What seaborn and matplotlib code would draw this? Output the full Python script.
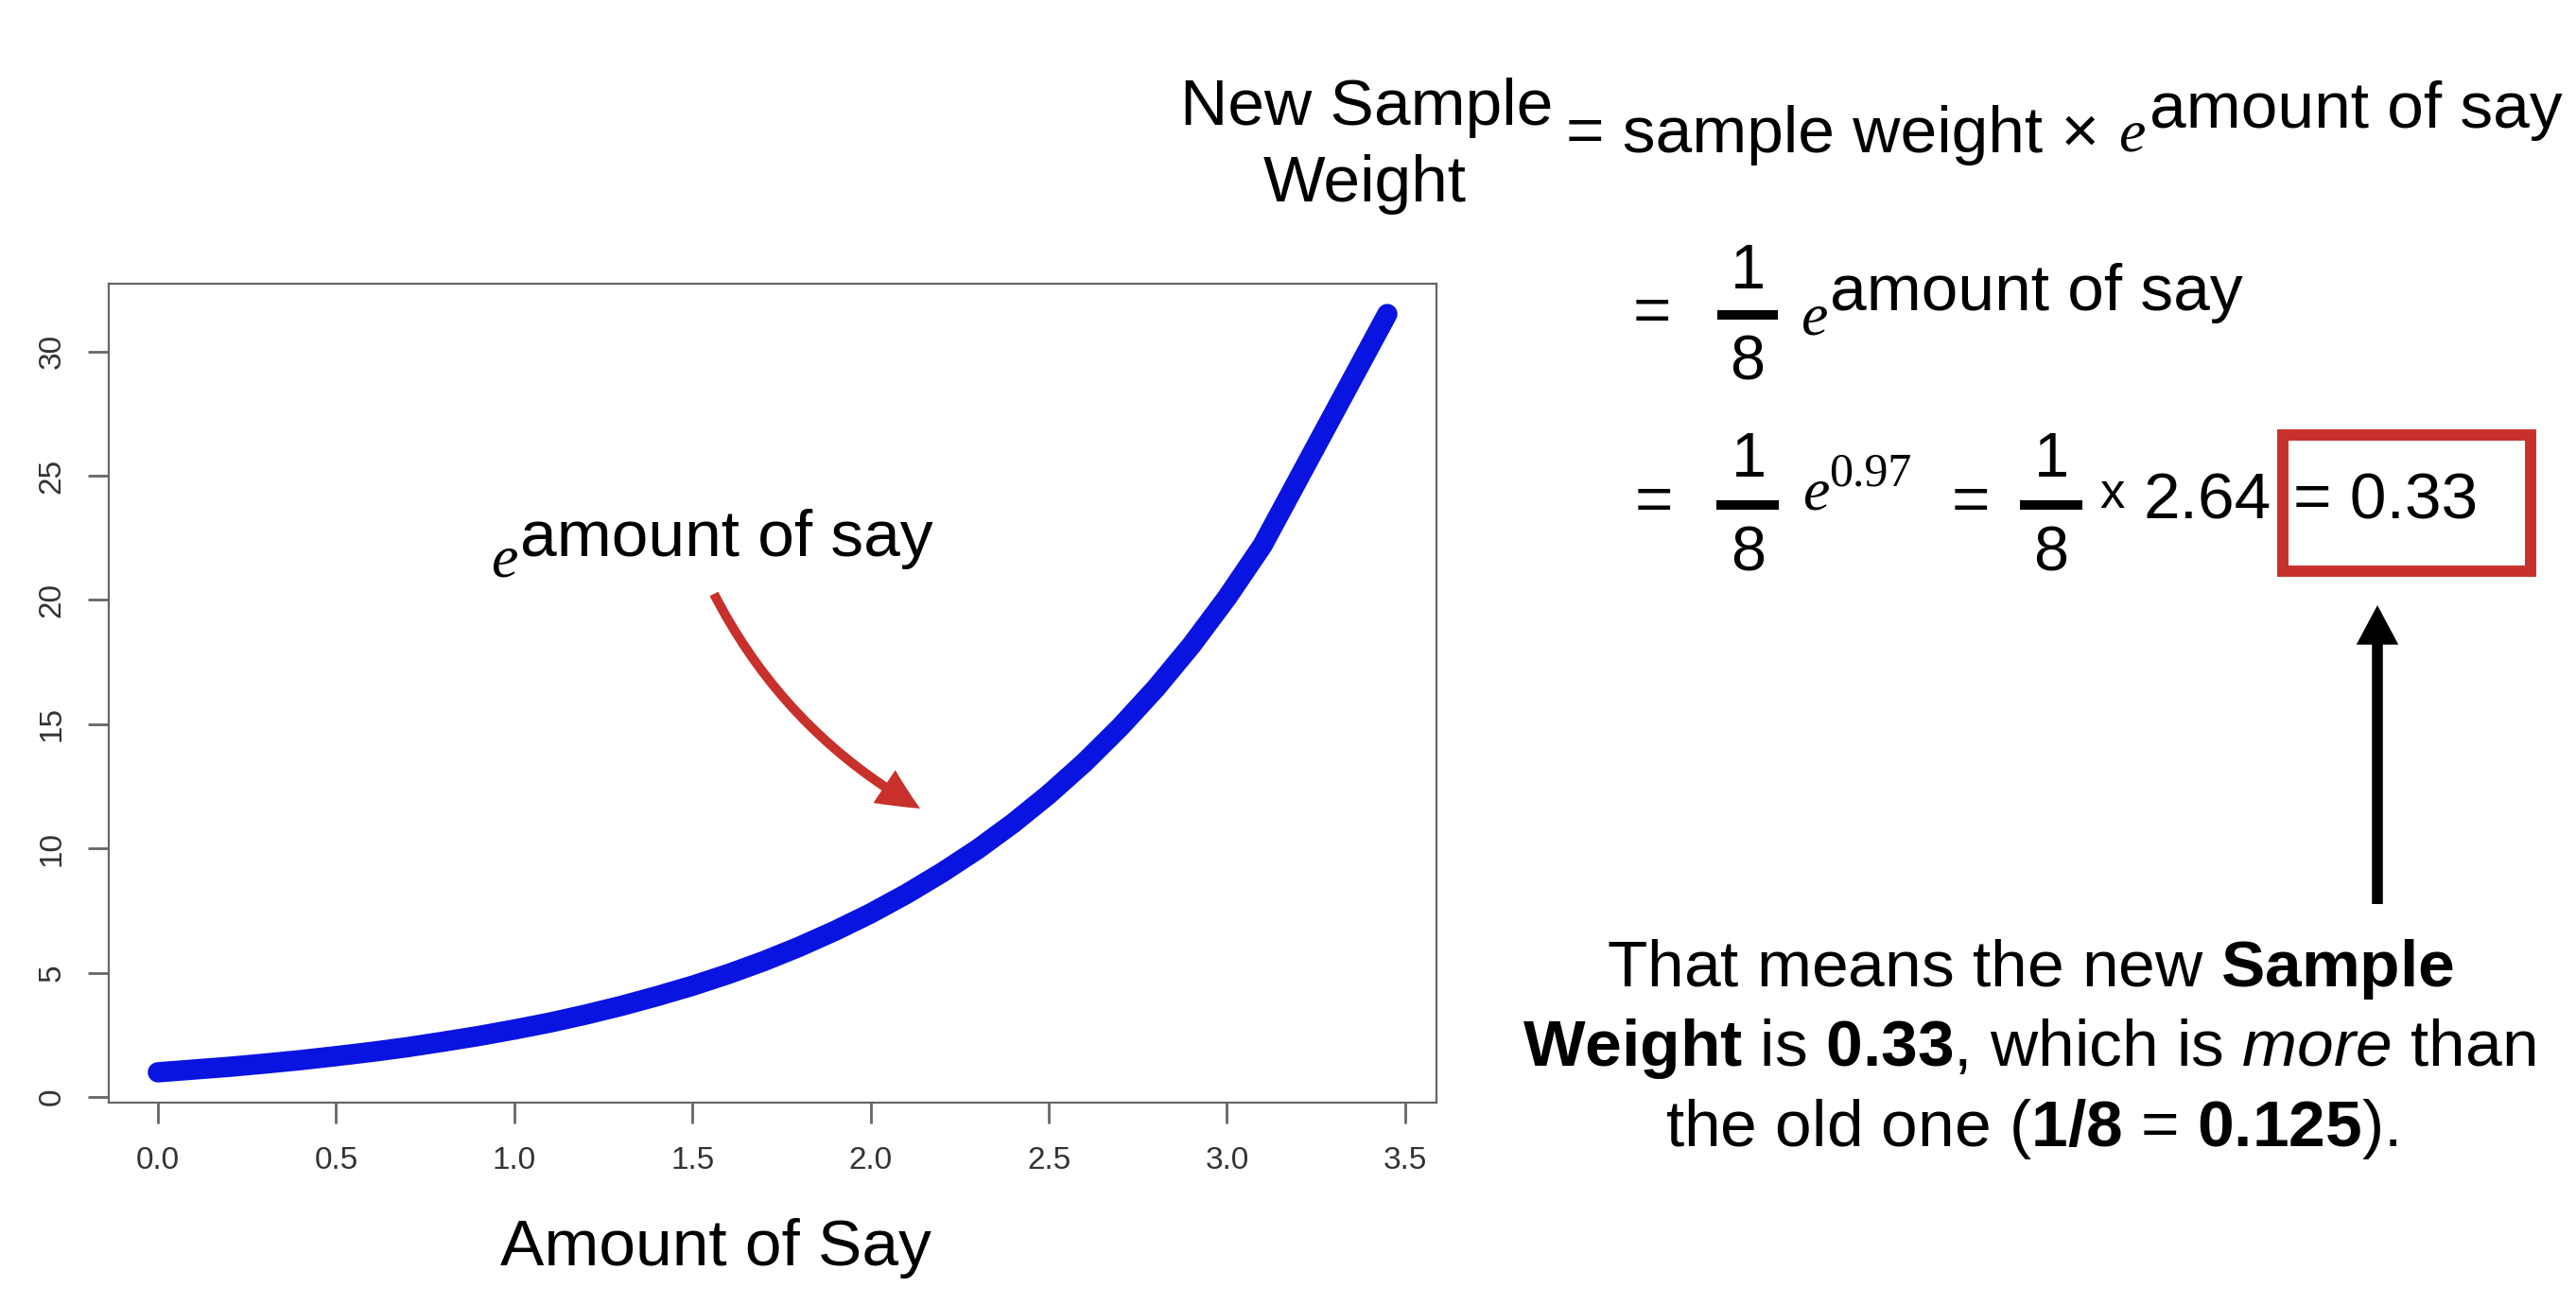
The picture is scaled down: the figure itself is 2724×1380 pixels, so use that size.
import numpy as np
import pandas as pd
import matplotlib
matplotlib.use("Agg")
import matplotlib.pyplot as plt
import seaborn as sns
from matplotlib.patches import Rectangle, FancyArrowPatch
from matplotlib.lines import Line2D

# ---------------- data ----------------
amount_of_say = [0.0, 0.1, 0.2, 0.3, 0.4, 0.5, 0.6, 0.7, 0.8, 0.9,
                 1.0, 1.1, 1.2, 1.3, 1.4, 1.5, 1.6, 1.7, 1.8, 1.9,
                 2.0, 2.1, 2.2, 2.3, 2.4, 2.5, 2.6, 2.7, 2.8, 2.9,
                 3.0, 3.1, 3.45]
e_amount_of_say = [1.00, 1.11, 1.22, 1.35, 1.49, 1.65, 1.82, 2.01, 2.23, 2.46,
                   2.72, 3.00, 3.32, 3.67, 4.06, 4.48, 4.95, 5.47, 6.05, 6.69,
                   7.39, 8.17, 9.03, 9.97, 11.02, 12.18, 13.46, 14.88, 16.44, 18.17,
                   20.09, 22.20, 31.50]
x_ticks = [0.0, 0.5, 1.0, 1.5, 2.0, 2.5, 3.0, 3.5]
x_tick_labels = ["0.0", "0.5", "1.0", "1.5", "2.0", "2.5", "3.0", "3.5"]
y_ticks = [0, 5, 10, 15, 20, 25, 30]
y_tick_labels = ["0", "5", "10", "15", "20", "25", "30"]
x_label = "Amount of Say"

# ---------------- styling ----------------
W, H = 2724, 1380
BLUE = "#0A14E0"
RED = "#C8302C"

sns.set_theme(style="white")
plt.rcParams['font.family'] = ['Liberation Sans', 'DejaVu Sans']
plt.rcParams['text.color'] = 'black'
plt.rcParams['mathtext.fontset'] = 'custom'
plt.rcParams['mathtext.rm'] = 'Liberation Sans'
plt.rcParams['mathtext.it'] = 'Liberation Sans:italic'
plt.rcParams['mathtext.bf'] = 'Liberation Sans:bold'

fig = plt.figure(figsize=(W / 100, H / 100), dpi=100)
fig.patch.set_facecolor("white")


def P(x, y):
    """pixel coords from top-left -> figure fraction"""
    return (x / W, 1 - y / H)


ax_l, ax_r, ax_t, ax_b = 115, 1519, 300, 1166
ax = fig.add_axes([ax_l / W, 1 - ax_b / H, (ax_r - ax_l) / W, (ax_b - ax_t) / H])

df = pd.DataFrame({"amount": amount_of_say, "value": e_amount_of_say})
sns.lineplot(data=df, x="amount", y="value", ax=ax, color=BLUE, linewidth=15.5,
             solid_capstyle="round", solid_joinstyle="round", sort=False)

xr = max(amount_of_say) - min(amount_of_say)
yr = max(e_amount_of_say) - min(e_amount_of_say)
ax.set_xlim(min(amount_of_say) - 0.04 * xr, max(amount_of_say) + 0.04 * xr)
ax.set_ylim(min(e_amount_of_say) - 0.04 * yr, max(e_amount_of_say) + 0.04 * yr)

ax.set_xticks(x_ticks, x_tick_labels)
ax.set_yticks(y_ticks, y_tick_labels)
ax.tick_params(axis="both", direction="out", length=15.8, width=2, color="#666666",
               labelsize=24, labelcolor="#333333", pad=17, bottom=True, left=True)
ax.tick_params(axis="y", labelrotation=90, pad=16)
for lbl in ax.get_yticklabels():
    lbl.set_va("center")
for s in ax.spines.values():
    s.set_visible(True)
    s.set_color("#666666")
    s.set_linewidth(1.6)

ax.set_ylabel("")
ax.set_xlabel(x_label, fontsize=50, color="black")
ax.xaxis.set_label_coords((757 - ax_l) / (ax_r - ax_l), (ax_b - 1338) / (ax_b - ax_t))
ax.xaxis.label.set_va("baseline")

# ---------------- annotation inside plot ----------------
SANS = 50


def txt(x, y, s, size=SANS, ha="left", **kw):
    fig.text(*P(x, y), s, fontsize=size, ha=ha, va="baseline", color="black", **kw)


txt(519, 610, "e", size=46, family="Liberation Serif", style="italic")
txt(550, 588, "amount of say")
fig.add_artist(FancyArrowPatch(P(755, 628), P(973, 855), transform=fig.transFigure,
                               arrowstyle="simple,head_length=32,head_width=30,tail_width=7.2",
                               connectionstyle="arc3,rad=0.15", mutation_scale=1,
                               color=RED, lw=0, shrinkA=0, shrinkB=0))


# ---------------- formula ----------------
def efrac(xc, y_num, y_bar, y_den, x0, x1):
    txt(xc, y_num, "1", size=48, ha="center")
    txt(xc, y_den, "8", size=48, ha="center")
    fig.add_artist(Line2D([x0 / W, x1 / W], [1 - y_bar / H, 1 - y_bar / H],
                          transform=fig.transFigure, color="black", lw=7.2,
                          solid_capstyle="butt"))


txt(1445, 132, "New Sample", ha="center")
txt(1443, 213, "Weight", ha="center")
txt(1656, 161, "= sample weight \u00d7")
txt(2240, 160, "e", size=46, family="Liberation Serif", style="italic")
txt(2273, 135, "amount of say")

# line 2
txt(1727, 351, "=")
efrac(1848, 305, 333, 402, 1816, 1880)
txt(1904, 353, "e", size=46, family="Liberation Serif", style="italic")
txt(1935, 328, "amount of say")

# line 3
txt(1729, 551, "=")
efrac(1849, 504, 534, 604, 1815, 1881)
txt(1906, 538, "e", size=46, family="Liberation Serif", style="italic")
txt(1934, 513, "0.97", size=36, family="Liberation Serif")
txt(2064, 551, "=")
efrac(2169, 504, 534, 604, 2136, 2202)
txt(2220, 537, "x", size=38)
txt(2267, 548, "2.64")
txt(2425, 548, "= 0.33")

# red box
bx0, by0, bx1, by1 = 2414, 460, 2676, 604
fig.add_artist(Rectangle(P(bx0, by1), (bx1 - bx0) / W, (by1 - by0) / H,
                         transform=fig.transFigure, fill=False, edgecolor=RED,
                         lw=8.6, joinstyle="miter"))

# black arrow
fig.add_artist(FancyArrowPatch(P(2514, 956), P(2514, 640), transform=fig.transFigure,
                               arrowstyle="simple,head_length=30,head_width=32,tail_width=8.3",
                               mutation_scale=1, color="black", lw=0, shrinkA=0, shrinkB=0))

# bottom explanation
txt(2147, 1043, r"That means the new $\mathbf{Sample}$", ha="center")
txt(2146, 1127, r"$\mathbf{Weight}$ is $\mathbf{0.33}$, which is $\mathit{more}$ than", ha="center")
txt(2148, 1212, r"the old one ($\mathbf{1/8}$ = $\mathbf{0.125}$).", ha="center")

fig.savefig("out.png", dpi=100, facecolor="white")
